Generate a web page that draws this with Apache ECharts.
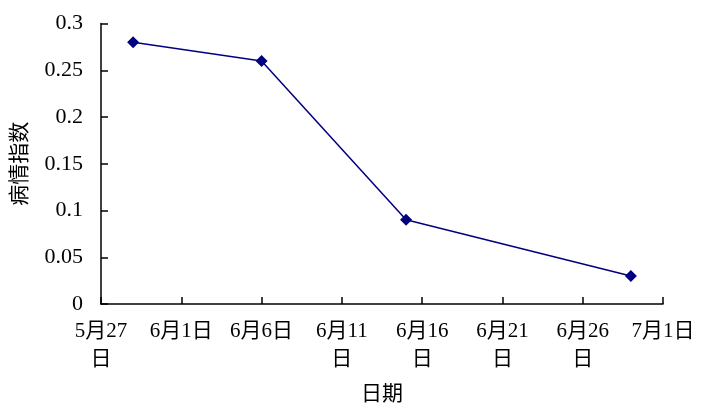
<!DOCTYPE html>
<html>
<head>
<meta charset="utf-8">
<script src="https://cdn.jsdelivr.net/npm/echarts@6/dist/echarts.min.js"></script>
<style>
html,body{margin:0;padding:0;background:#fff;}
#c{width:720px;height:416px;}
</style>
</head>
<body>
<div id="c"></div>
<script>
// Data
const startDate = '2000-05-27';
const pointDates = ['2000-05-29', '2000-06-06', '2000-06-15', '2000-06-29'];
const indexValues = [0.28, 0.26, 0.09, 0.03];
const xTickLabels = ['5月27\n日', '6月1日', '6月6日', '6月11\n日', '6月16\n日', '6月21\n日', '6月26\n日', '7月1日'];
const xTitle = '日期';
const yTitle = '病情指数';

const DAY = 86400000;
function dayOffset(d) { return Math.round((Date.parse(d) - Date.parse(startDate)) / DAY); }
const seriesData = pointDates.map((d, i) => [dayOffset(d), indexValues[i]]);

const FONT = "'Liberation Serif', 'Noto Sans CJK SC', serif";
const chart = echarts.init(document.getElementById('c'));
chart.setOption({
  animation: false,
  backgroundColor: '#fff',
  grid: { left: 101, right: 57, top: 23.5, bottom: 112, containLabel: false },
  xAxis: {
    type: 'value', min: 0, max: 35, interval: 5,
    name: xTitle, nameLocation: 'middle', nameGap: 80,
    nameTextStyle: { fontFamily: FONT, fontSize: 21, color: '#000' },
    axisLine: { show: true, lineStyle: { color: '#000', width: 1.5 } },
    axisTick: { show: true, inside: true, length: 7, lineStyle: { color: '#000', width: 1.5 } },
    splitLine: { show: false },
    axisLabel: {
      margin: 13, fontFamily: FONT, fontSize: 21, color: '#000', lineHeight: 28,
      formatter: v => xTickLabels[Math.round(v / 5)]
    }
  },
  yAxis: {
    type: 'value', min: 0, max: 0.3, interval: 0.05,
    name: yTitle, nameLocation: 'middle', nameGap: 70, nameRotate: 90,
    nameTextStyle: { fontFamily: FONT, fontSize: 21, color: '#000' },
    axisLine: { show: true, lineStyle: { color: '#000', width: 1.5 } },
    axisTick: { show: true, inside: true, length: 7, lineStyle: { color: '#000', width: 1.5 } },
    splitLine: { show: false },
    axisLabel: {
      margin: 18, fontFamily: FONT, fontSize: 22, color: '#000',
      formatter: v => String(+v.toFixed(2))
    }
  },
  series: [{
    type: 'line',
    data: seriesData,
    symbol: 'diamond', symbolSize: 12,
    itemStyle: { color: '#000080' },
    lineStyle: { color: '#000080', width: 1.5 }
  }]
});
</script>
</body>
</html>
